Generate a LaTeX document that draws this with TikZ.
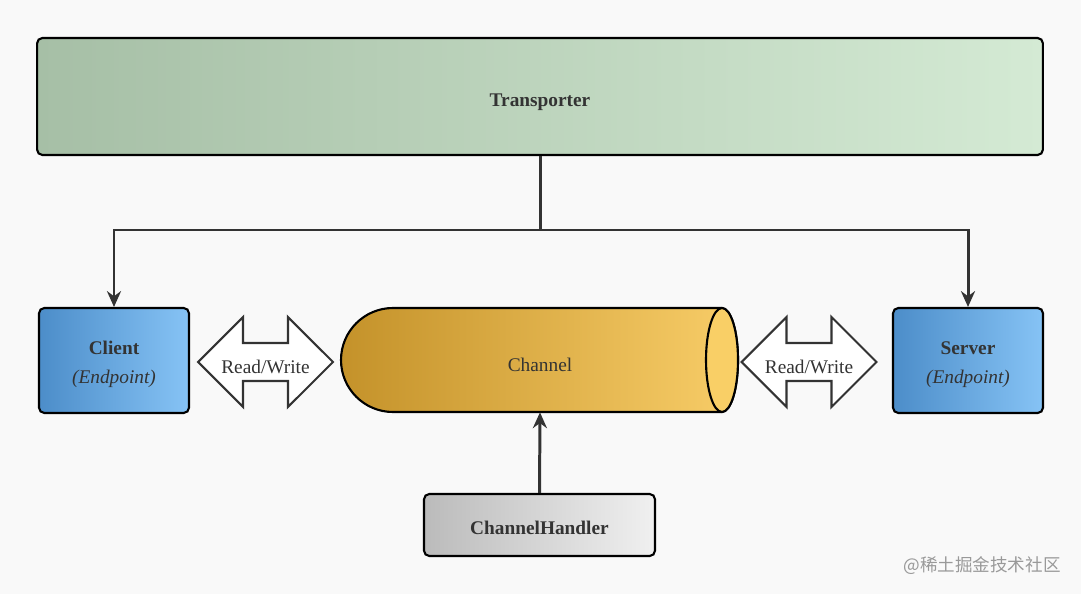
\documentclass[tikz,border=0pt]{standalone}
\usepackage{fontspec}
\setmainfont{Liberation Serif}
\newfontfamily\cjk{Noto Sans CJK SC}
\usetikzlibrary{positioning,shapes.arrows,arrows.meta}
\newcommand{\lowtext}[1]{\raisebox{-5.5pt}[0pt][0pt]{#1}}
\newcommand{\pointtext}[1]{\raisebox{-5pt}[0pt][0pt]{\begin{tabular}{c}\textbf{#1}\\[3.5pt]\itshape (Endpoint)\end{tabular}}}
\begin{document}
\begin{tikzpicture}[x=0.02cm,y=-0.02cm, font=\fontsize{11}{13}\selectfont]
  \definecolor{bgcol}{HTML}{F9F9F9}
  \definecolor{greenl}{HTML}{A6BFA6}
  \definecolor{greenr}{HTML}{D4EAD4}
  \definecolor{bluel}{HTML}{4C8DC9}
  \definecolor{bluer}{HTML}{86C3F5}
  \definecolor{goldl}{HTML}{C4922A}
  \definecolor{goldr}{HTML}{F8CD68}
  \definecolor{goldcap}{HTML}{F9CF66}
  \definecolor{grayl}{HTML}{BBBBBB}
  \definecolor{grayr}{HTML}{F0F0F0}
  \definecolor{linecol}{HTML}{333333}
  \tikzstyle{block}     = [rectangle, rounded corners=3pt, draw=black, line width=1.2pt, text=linecol]
  \tikzstyle{endpoint}  = [block, left color=bluel, right color=bluer, minimum width=3cm, minimum height=2.1cm]
  \tikzstyle{rw}        = [double arrow, draw=linecol, line width=1.2pt, fill=white, minimum width=1.8cm, minimum height=2.7cm, inner ysep=0.3cm, inner xsep=0pt, double arrow head extend=0.44cm]
  \tikzstyle{rwtext}    = [text=linecol, inner sep=0pt, yshift=-3]
  \tikzstyle{connector} = [line width=1.7pt, draw=linecol, -{Stealth[length=9pt,width=8pt]}]
  \fill [bgcol] (0,0) rectangle (1081,594);
  \node [block, left color=greenl, right color=greenr, minimum width=20.12cm, minimum height=2.34cm] (transporter) at (540,96.5) {\lowtext{\textbf{Transporter}}};
  \node [endpoint] (client) at (114,360.5) {\pointtext{Client}};
  \node [endpoint] (server) at (968,360.5) {\pointtext{Server}};
  \node [rw] (rwleft)  at (265.5,362) {};
  \node [rw] (rwright) at (809,362)   {};
  \node [rwtext] (rwlefttext)  at (rwleft)  {Read/Write};
  \node [rwtext] (rwrighttext) at (rwright) {Read/Write};
  % channel as a lying cylinder
  \draw [line width=1.2pt, left color=goldl, right color=goldr] (393,308) arc [start angle=270, end angle=90, x radius=52, y radius=52] -- (722,412) arc [start angle=90, end angle=-90, x radius=16, y radius=52] -- cycle;
  \draw [line width=1.2pt, fill=goldcap] (722,360) ellipse [x radius=16, y radius=52];
  \node [minimum width=7.94cm, minimum height=2.08cm, text=linecol] (channel) at (540,360) {\raisebox{-6.5pt}[0pt][0pt]{Channel}};
  \node [block, left color=grayl, right color=grayr, minimum width=4.62cm, minimum height=1.24cm] (handler) at (539.5,525) {\lowtext{\textbf{ChannelHandler}}};
  \coordinate (split) at (540,230);
  \draw [line width=1.7pt, draw=linecol] (transporter.south) -- (split);
  \draw [connector] (split) -| (client.north);
  \draw [connector] (split) -| (server.north);
  \draw [connector] (handler.north) -- (channel.south);
  \node [text=gray!80, font=\cjk\normalsize] (mark) at (982,566) {@稀土掘金技术社区};
\end{tikzpicture}
\end{document}
